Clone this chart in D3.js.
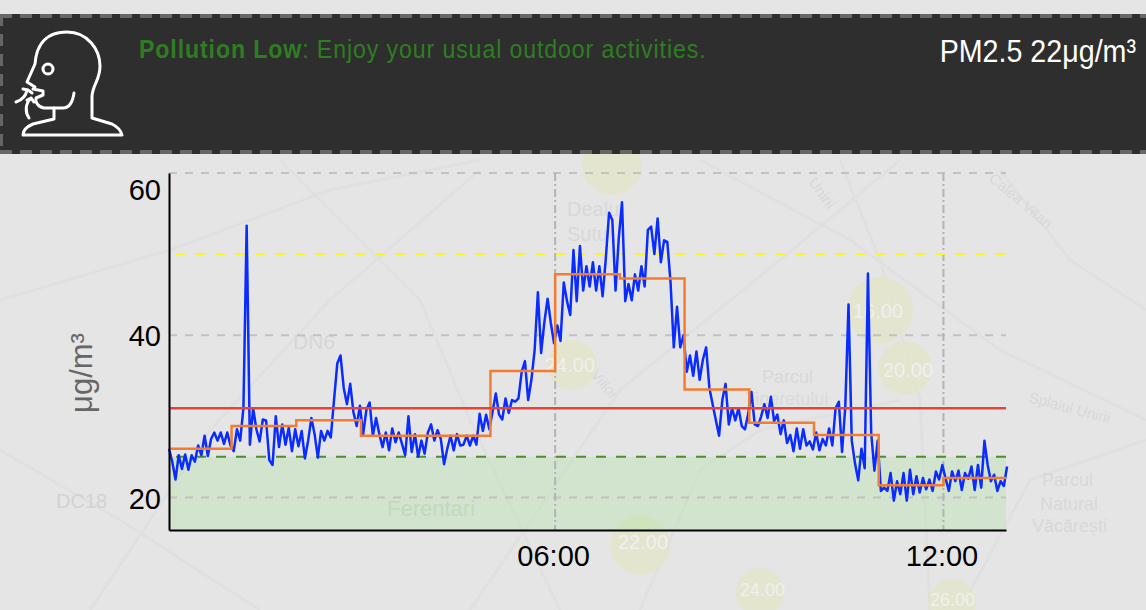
<!DOCTYPE html>
<html>
<head>
<meta charset="utf-8">
<title>PM2.5</title>
<script src="https://cdn.jsdelivr.net/npm/d3@7"></script>
<style>
  html, body { margin: 0; padding: 0; background: #e5e5e5; overflow: hidden; }
  text { font-family: "Liberation Sans", Arial, sans-serif; }
</style>
</head>
<body>
<div id="chart"></div>
<script>
// Chart values
var startMinute = 2;
var sampleStep = 3; // minutes between samples

// one row per hour, 20 samples in a row
var pm25 = [
  26.0,24.4,22.2,25.2,23.5,25.3,23.4,25.2,24.4,26.4,25.2,27.6,25.1,27.2,28.0,27.0,28.0,26.6,28.0,26.4,
  25.7,28.4,27.0,31.0,53.5,26.5,31.0,28.4,26.9,29.6,29.5,24.6,24.0,30.0,26.2,29.0,26.5,28.6,25.7,28.4,
  26.3,28.2,24.8,27.0,29.8,27.8,24.9,28.2,27.0,28.2,27.4,32.0,36.5,37.5,33.5,31.5,34.0,30.5,28.8,31.3,
  27.8,30.8,31.7,27.6,29.8,27.8,26.2,28.0,25.8,28.5,26.8,28.0,26.6,25.2,30.0,25.6,27.8,25.0,27.0,25.4,
  28.0,29.0,27.0,28.3,27.2,24.1,26.0,27.6,25.8,27.8,26.4,26.5,27.6,26.4,27.6,26.5,30.3,28.2,30.2,28.4,
  30.6,32.8,30.2,29.6,32.2,30.4,32.0,31.8,32.2,35.5,36.8,32.0,34.5,38.2,45.3,37.8,41.6,44.5,41.5,39.0,
  41.2,39.3,46.5,44.2,42.5,50.5,44.2,51.0,45.5,48.5,46.0,49.0,45.5,48.5,44.8,49.5,55.1,54.2,45.5,52.0,
  56.4,44.2,46.3,44.3,47.5,45.5,48.5,46.0,53.0,53.4,50.0,54.4,49.0,51.7,51.5,46.5,38.5,43.5,38.5,40.0,
  35.5,37.5,35.0,38.0,34.5,37.0,38.5,33.5,31.5,29.5,27.6,32.0,34.0,29.0,31.0,29.5,31.0,28.8,28.4,30.3,
  33.0,29.0,28.8,30.0,31.5,29.8,32.4,29.4,30.2,27.8,29.5,26.7,27.7,25.7,28.5,26.0,28.4,26.4,26.9,25.9,
  28.0,25.8,27.2,26.4,28.5,26.4,31.0,31.8,25.6,31.2,43.8,27.0,24.2,22.1,26.0,23.6,47.6,28.0,23.3,27.0,
  20.8,21.2,20.8,23.0,19.6,22.0,20.4,23.0,19.6,23.4,20.4,22.6,20.6,22.4,21.0,22.2,20.8,23.2,22.2,24.0,
  22.3,20.8,23.2,22.0,23.3,20.9,23.0,22.3,23.8,20.9,24.0,21.2,27.0,24.0,22.0,22.8,20.8,22.0,21.4,23.8
];

// hourly average, starts at each full hour
var hourlyStart = [2, 60, 120, 180, 240, 300, 360, 420, 480, 540, 600, 660, 720, 778];
var hourlyMean = [26.0, 28.8, 29.5, 27.6, 27.6, 35.6, 47.5, 47.0, 33.3, 29.2, 27.7, 21.5, 22.4, 22.4];

var yTicks = [20, 40, 60];
var xTickHours = [6, 12];
var goodLimit = 25;
var moderateLimit = 50;
var averageLevel = 31;
var lastMinute = 778;

var width = 1146;
var height = 610;
var plotLeft = 169, plotRight = 1006, plotTop = 173, plotBottom = 530;

function minuteToDate(m) {
  return new Date(2020, 0, 1, 0, m);
}

var svg = d3.select("#chart").append("svg")
  .attr("width", width)
  .attr("height", height)
  .style("display", "block");

// Faint map behind everything
svg.append("rect").attr("width", width).attr("height", height).attr("fill", "#e5e5e5");

var roads = [
  "M0,300 L170,250 L330,190 L480,160",
  "M90,610 L210,430 L330,300 L480,170",
  "M280,160 L420,300 L470,420 L560,610",
  "M470,610 L620,390 L780,260 L900,160",
  "M700,160 L850,240 L1000,350 L1146,420",
  "M640,610 L700,470 L760,430 L900,400",
  "M840,160 L880,260 L920,400 L930,610",
  "M1000,170 L1070,260 L1146,310",
  "M0,450 L120,520 L260,610",
  "M960,610 L1030,480 L1146,440"
];
svg.append("g").selectAll("path").data(roads).enter().append("path")
  .attr("d", function(d) { return d; })
  .attr("fill", "none")
  .attr("stroke", "#e0e0e0")
  .attr("stroke-width", 3);

var blobs = [[612, 165, 30], [880, 310, 33], [905, 368, 27], [572, 365, 25], [640, 545, 30], [760, 592, 24], [952, 603, 24]];
svg.append("g").selectAll("circle").data(blobs).enter().append("circle")
  .attr("cx", function(d) { return d[0]; })
  .attr("cy", function(d) { return d[1]; })
  .attr("r", function(d) { return d[2]; })
  .attr("fill", "#e3e6c4")
  .attr("opacity", 0.7);

var mapLabels = [
  ["Dealu", 567, 216, 20, "#d8d8d8", 0], ["Sutu", 567, 241, 20, "#d8d8d8", 0],
  ["DN6", 293, 349, 21, "#d6d6d6", 0], ["DC18", 56, 508, 20, "#d2d2d2", 0],
  ["Ferentari", 387, 516, 22, "#cfd9cc", 0], ["Parcul", 762, 383, 18, "#d8d8d8", 0],
  ["Tineretului", 745, 405, 18, "#dadada", 0],
  ["Parcul", 1042, 486, 18, "#d8d8d8", 0], ["Natural", 1040, 510, 18, "#d8d8d8", 0],
  ["Văcărești", 1032, 532, 18, "#d8d8d8", 0],
  ["Calea Vitan", 988, 180, 15, "#d8d8d8", 40], ["Splaiul Unirii", 1028, 402, 15, "#d8d8d8", 15],
  ["Viilor", 590, 375, 15, "#d8d8d8", 50], ["Unirii", 808, 182, 15, "#d8d8d8", 55],
  ["20.00", 883, 377, 20, "#f0f0f0", 0], ["16.00", 853, 318, 20, "#f0f0f0", 0],
  ["24.00", 545, 372, 20, "#f0f0f0", 0], ["22.00", 618, 549, 20, "#f0f0f0", 0],
  ["24.00", 740, 596, 18, "#f0f0f0", 0], ["26.00", 930, 606, 18, "#f0f0f0", 0]
];
svg.append("g").selectAll("text").data(mapLabels).enter().append("text")
  .attr("transform", function(d) { return "translate(" + d[1] + "," + d[2] + ") rotate(" + d[5] + ")"; })
  .attr("font-size", function(d) { return d[3]; })
  .attr("fill", function(d) { return d[4]; })
  .text(function(d) { return d[0]; });

// Banner
svg.append("rect").attr("x", 0).attr("y", 14).attr("width", width).attr("height", 140).attr("fill", "#2e2e2e");
svg.append("path")
  .attr("d", "M0,16 H1146 M0,152 H1146 M1,14 V154")
  .attr("fill", "none")
  .attr("stroke", "#666666")
  .attr("stroke-width", 4)
  .attr("stroke-dasharray", "12,8");

var icon = svg.append("g")
  .attr("fill", "none")
  .attr("stroke", "#ffffff")
  .attr("stroke-width", 3)
  .attr("stroke-linejoin", "round")
  .attr("stroke-linecap", "round");
icon.append("path").attr("d",
  "M35,87 L27,82 L35,64 C36,50 42,32 67,32 C88,32 100,50 100,66 C100,80 93,84 92,96 L92,118 " +
  "L112,124 C118,127 121,131 122,135 L23,135 C23,130 26,127 33,124 L54,119 L54,108 " +
  "L44,108 C38,107 35,102 36,98 L43,95 L43,91 L33,89 L35,87");
icon.append("path").attr("d", "M54,108 L63,108 C70,108 73,100 74,93");
icon.append("circle").attr("cx", 48).attr("cy", 69).attr("r", 5);
icon.append("path").attr("d", "M16,102 C22,100 26,96 27,90 M23,89 L28,90 L32,93");
icon.append("path").attr("d", "M29,118 C25,112 25,104 31,98 M27,100 L31,98 L34,102");

// banner texts are narrower than the font, so they get squeezed
var message = svg.append("text")
  .attr("transform", "translate(139,58) scale(0.89,1)")
  .attr("font-size", 26)
  .attr("letter-spacing", 1)
  .attr("fill", "#2f7d22");
message.append("tspan").attr("font-weight", "bold").text("Pollution Low");
message.append("tspan").text(": Enjoy your usual outdoor activities.");

svg.append("text")
  .attr("transform", "translate(1136,62) scale(0.895,1)")
  .attr("text-anchor", "end")
  .attr("font-size", 32)
  .attr("fill", "#ffffff")
  .text("PM2.5 22μg/m³");

// Scales
var x = d3.scaleTime()
  .domain([minuteToDate(startMinute), minuteToDate(lastMinute)])
  .range([plotLeft, plotRight]);
var y = d3.scaleLinear()
  .domain([15.98, 60])
  .range([plotBottom, plotTop]);

// Good range band
svg.append("rect")
  .attr("x", plotLeft)
  .attr("y", y(goodLimit))
  .attr("width", plotRight - plotLeft)
  .attr("height", plotBottom - y(goodLimit))
  .attr("fill", "#90de80")
  .attr("opacity", 0.22);

// Grid
svg.append("g").selectAll("line").data(yTicks).enter().append("line")
  .attr("x1", plotLeft)
  .attr("x2", plotRight)
  .attr("y1", function(d) { return y(d); })
  .attr("y2", function(d) { return y(d); })
  .attr("stroke", "#c2c2c2")
  .attr("stroke-width", 2)
  .attr("stroke-dasharray", "8,8");

svg.append("g").selectAll("line").data(xTickHours).enter().append("line")
  .attr("x1", function(d) { return x(minuteToDate(d * 60)); })
  .attr("x2", function(d) { return x(minuteToDate(d * 60)); })
  .attr("y1", plotTop)
  .attr("y2", plotBottom)
  .attr("stroke", "#b4b4b4")
  .attr("stroke-width", 2)
  .attr("stroke-dasharray", "8,3,2,3");

// Threshold lines
function limitLine(value, color) {
  svg.append("line")
    .attr("x1", plotLeft)
    .attr("x2", plotRight)
    .attr("y1", y(value))
    .attr("y2", y(value))
    .attr("stroke", color)
    .attr("stroke-width", 2)
    .attr("stroke-dasharray", "10,10")
    .attr("stroke-dashoffset", 13);
}
limitLine(goodLimit, "#4a9030");
limitLine(moderateLimit, "#fbf52e");

// Readings
var line = d3.line()
  .x(function(d, i) { return x(minuteToDate(startMinute + i * sampleStep)); })
  .y(function(d) { return y(d); });

svg.append("path")
  .attr("d", line(pm25))
  .attr("fill", "none")
  .attr("stroke", "#0a2cff")
  .attr("stroke-width", 2.5)
  .attr("stroke-linejoin", "round");

// Hourly mean
var stepLine = d3.line()
  .x(function(d, i) { return x(minuteToDate(hourlyStart[i])); })
  .y(function(d) { return y(d); })
  .curve(d3.curveStepAfter);

svg.append("path")
  .attr("d", stepLine(hourlyMean))
  .attr("fill", "none")
  .attr("stroke", "#f47c30")
  .attr("stroke-width", 2.5);

// Average level
svg.append("line")
  .attr("x1", plotLeft)
  .attr("x2", plotRight)
  .attr("y1", y(averageLevel))
  .attr("y2", y(averageLevel))
  .attr("stroke", "#ea4335")
  .attr("stroke-width", 2.5);

// Axes
var yAxis = d3.axisLeft(y).tickValues(yTicks).tickSize(0).tickPadding(8);
var xAxis = d3.axisBottom(x)
  .tickValues(xTickHours.map(function(h) { return minuteToDate(h * 60); }))
  .tickFormat(d3.timeFormat("%H:%M"))
  .tickSize(0)
  .tickPadding(15);

var yG = svg.append("g")
  .attr("transform", "translate(" + plotLeft + ",0)")
  .call(yAxis);
var xG = svg.append("g")
  .attr("transform", "translate(0," + plotBottom + ")")
  .call(xAxis);

[yG, xG].forEach(function(g) {
  g.select(".domain").attr("stroke", "#000").attr("stroke-width", 2);
  g.selectAll("text")
    .attr("font-family", "Liberation Sans, Arial, sans-serif")
    .attr("font-size", 29)
    .attr("fill", "#000");
});

// top label sits under the top of the axis
yG.selectAll(".tick text")
  .attr("dy", function(d) { return d === 60 ? "0.9em" : "0.37em"; });
xG.selectAll(".tick text").attr("dx", -2);

svg.append("text")
  .attr("transform", "translate(92,373) rotate(-90)")
  .attr("text-anchor", "middle")
  .attr("font-size", 31)
  .attr("fill", "#666666")
  .text("μg/m³");
</script>
</body>
</html>
